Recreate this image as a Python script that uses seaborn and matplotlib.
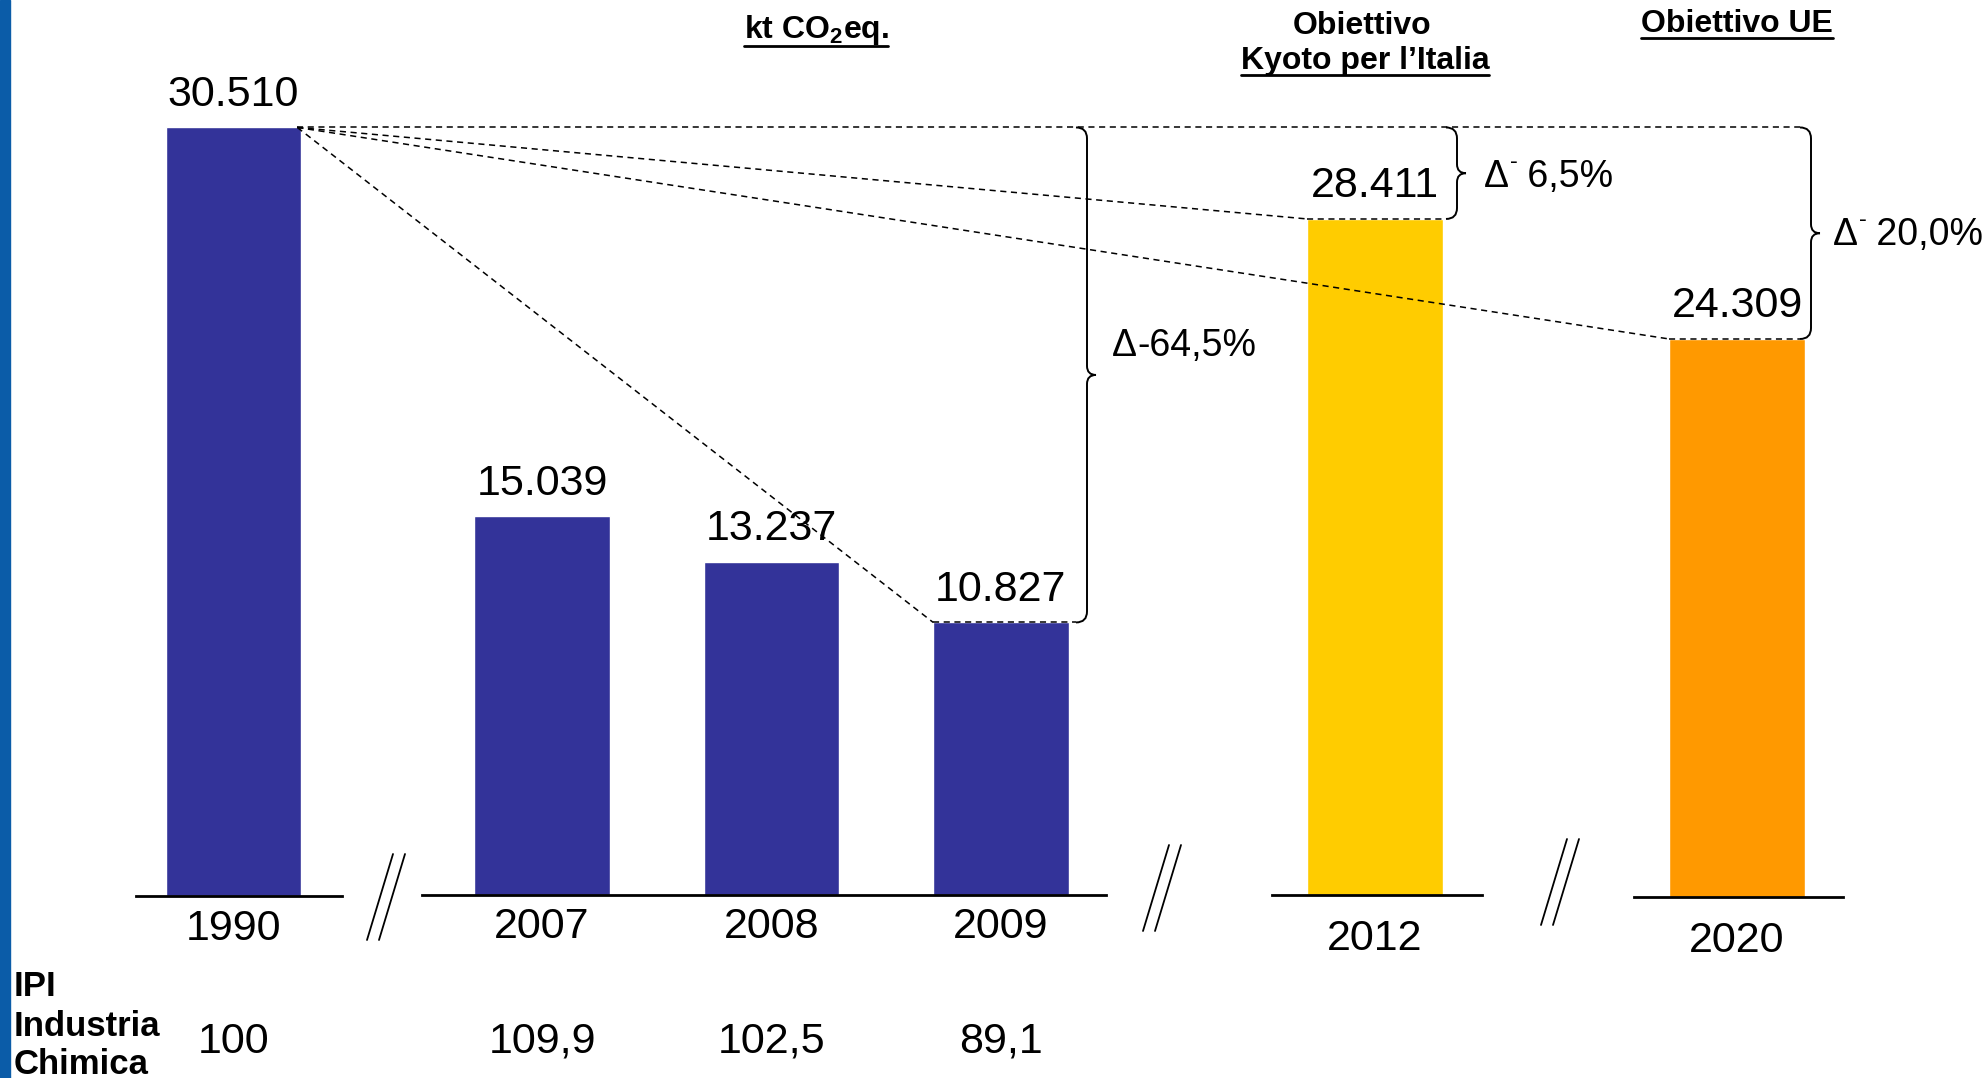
import numpy as np
import pandas as pd
import matplotlib
matplotlib.use("Agg")
import matplotlib.pyplot as plt
import seaborn as sns
from matplotlib.path import Path
from matplotlib.patches import PathPatch, Rectangle

# ---------------- data ----------------
base_years = ["1990"]
base_values = [30510]
recent_years = ["2007", "2008", "2009"]
recent_values = [15039, 13237, 10827]
kyoto_years = ["2012"]
kyoto_values = [28411]
eu_years = ["2020"]
eu_values = [24309]
ipi_years = ["1990", "2007", "2008", "2009"]
ipi_values = [100, 109.9, 102.5, 89.1]
delta_parts = [("\u0394", "", "-64,5%"), ("\u0394", "-", " 6,5%"), ("\u0394", "-", " 20,0%")]
header_texts = ["kt CO$_\\mathbf{2}$eq.", "Obiettivo", "Kyoto per l\u2019Italia", "Obiettivo UE"]
ipi_row_labels = ["IPI", "Industria", "Chimica"]

BLUE, YELLOW, ORANGE = "#333399", "#FFCC00", "#FF9900"

sns.set_style("white")
FONT = ["Liberation Sans", "DejaVu Sans"]
plt.rcParams["font.family"] = FONT
plt.rcParams.update({
    "text.color": "black",
    "xtick.color": "black",
    "axes.labelcolor": "black",
    "mathtext.fontset": "custom",
    "mathtext.rm": "Liberation Sans:bold",
    "mathtext.bf": "Liberation Sans:bold",
})

W, H = 1986, 1078
fig = plt.figure(figsize=(W / 100, H / 100), dpi=100)
fig.patch.set_facecolor("white")


def px_axes(x0, x1, base, top=100):
    return fig.add_axes([x0 / W, 1 - base / H, (x1 - x0) / W, (base - top) / H])


def fmt_thousands(v):
    return f"{v:,}".replace(",", ".")


def fmt_dec(v):
    return f"{v:g}".replace(".", ",")


VAL_FS = 31
groups = [
    (base_years, base_values, BLUE, (136, 342, 896), (-0.424, 0.472), 31600, 9),
    (recent_years, recent_values, BLUE, (422, 1106, 895), (-0.523, 2.458), 31580, 9),
    (kyoto_years, kyoto_values, YELLOW, (1272, 1482, 895), (-0.448, 0.465), 33410, 17),
    (eu_years, eu_values, ORANGE, (1634, 1843, 897), (-0.448, 0.461), 34720, 17),
]
axes = []
for years, vals, col, (x0, x1, base), xl, ymax, pad in groups:
    ax = px_axes(x0, x1, base)
    df = pd.DataFrame({"year": years, "value": vals})
    sns.barplot(data=df, x="year", y="value", color=col, saturation=1,
                width=0.59, ax=ax, zorder=2)
    ax.set_xlim(*xl)
    ax.set_ylim(0, ymax)
    ax.set_facecolor("none")
    for s in ["top", "right", "left"]:
        ax.spines[s].set_visible(False)
    ax.spines["bottom"].set_linewidth(2.0)
    ax.spines["bottom"].set_color("black")
    ax.spines["bottom"].set_zorder(3)
    ax.set_yticks([])
    ax.set_xlabel("")
    ax.set_ylabel("")
    ax.tick_params(axis="x", length=0, pad=pad, labelsize=VAL_FS, labelcolor="black")
    ax.bar_label(ax.containers[0], labels=[fmt_thousands(v) for v in vals],
                 padding=9, fontsize=VAL_FS, color="black")
    axes.append(ax)
ax1, ax2, ax3, ax4 = axes

# overlay in pixel coordinates
ov = fig.add_axes([0, 0, 1, 1], zorder=10)
ov.set_xlim(0, W)
ov.set_ylim(H, 0)
ov.axis("off")
ov.patch.set_alpha(0)


def to_px(ax, x, y):
    return ov.transData.inverted().transform(ax.transData.transform((x, y)))


def bar_corners(ax, i):
    p = ax.patches[i]
    left = p.get_x()
    right = p.get_x() + p.get_width()
    top = p.get_height()
    return to_px(ax, left, top), to_px(ax, right, top), to_px(ax, left + p.get_width() / 2, 0)


# blue stripe on the left
ov.add_patch(Rectangle((0, 0), 10, H, color="#0B5CA8", zorder=1))

DASH = dict(color="black", lw=1.1, ls=(0, (4, 3)), zorder=5)

(_, tr1990, _) = bar_corners(ax1, 0)
(tl09, tr09, _) = bar_corners(ax2, 2)
(tl12, tr12, _) = bar_corners(ax3, 0)
(tl20, tr20, _) = bar_corners(ax4, 0)

br1_x, br2_x, br3_x = 1087, 1457, 1811
r = 11
sx = tr1990[0] - 4

ov.plot([sx, br3_x - r], [tr1990[1], tr1990[1]], **DASH)
ov.plot([sx, tl09[0]], [tr1990[1], tl09[1]], **DASH)
ov.plot([sx, tl12[0]], [tr1990[1], tl12[1]], **DASH)
ov.plot([sx, tl20[0]], [tr1990[1], tl20[1]], **DASH)
ov.plot([tl09[0], br1_x - r], [tl09[1], tl09[1]], **DASH)
ov.plot([tl12[0], br2_x - r], [tl12[1], tl12[1]], **DASH)
ov.plot([tl20[0], br3_x - r], [tl20[1], tl20[1]], **DASH)


def brace(x, y1, y2, r=11, tip=9):
    ym = (y1 + y2) / 2
    verts = [(x - r, y1), (x, y1), (x, y1 + r), (x, ym - tip),
             (x, ym), (x + tip, ym),
             (x + tip, ym), (x, ym), (x, ym + tip), (x, y2 - r),
             (x, y2), (x - r, y2)]
    codes = [Path.MOVETO, Path.CURVE3, Path.CURVE3, Path.LINETO,
             Path.CURVE3, Path.CURVE3,
             Path.MOVETO, Path.CURVE3, Path.CURVE3, Path.LINETO,
             Path.CURVE3, Path.CURVE3]
    ov.add_patch(PathPatch(Path(verts, codes), fill=False, lw=1.4,
                           ec="black", zorder=6))


top_y = tr1990[1]
brace(br1_x, top_y, tl09[1])
brace(br2_x, top_y, tl12[1])
brace(br3_x, top_y, tl20[1])

DFS = 27
for (d, sup, rest), (x, y) in zip(delta_parts, [(1112, 346), (1484, 177), (1833, 235)]):
    t = ov.text(x, y, d, fontsize=DFS, va="center", ha="left")
    off = 0
    if sup:
        ov.annotate(sup, xy=(1, 0.62), xycoords=t, xytext=(1, 0),
                    textcoords="offset points", fontsize=17, va="bottom", ha="left")
        off = 6
    ov.annotate(rest, xy=(1, 0), xycoords=t, xytext=(off, 0),
                textcoords="offset points", fontsize=DFS, va="bottom", ha="left")

# axis break marks
for bx, by in [(367, 940), (1143, 931), (1541, 925)]:
    for off in (0, 12):
        ov.plot([bx + off, bx + off + 26], [by, by - 86], color="black", lw=1.3, zorder=6)

# headers
HFS = 23
hdr = []
hdr.append(ov.text(816, 30, header_texts[0], fontsize=HFS, fontweight="bold",
                   ha="center", va="center"))
ov.text(1362, 26, header_texts[1], fontsize=HFS, fontweight="bold", ha="center", va="center")
hdr.append(ov.text(1365, 61, header_texts[2], fontsize=HFS, fontweight="bold",
                   ha="center", va="center"))
hdr.append(ov.text(1737, 24, header_texts[3], fontsize=HFS, fontweight="bold",
                   ha="center", va="center"))

# IPI row
for lab, y in zip(ipi_row_labels, [986, 1026, 1064]):
    ov.text(14, y, lab, fontsize=25, fontweight="bold", ha="left", va="center")
ipi_axes = [(ax1, 0), (ax2, 0), (ax2, 1), (ax2, 2)]
for (ax, i), v in zip(ipi_axes, ipi_values):
    _, _, bc = bar_corners(ax, i)
    ov.text(bc[0], 1042, fmt_dec(v), fontsize=VAL_FS, ha="center", va="center")

# underlines
fig.canvas.draw()
renderer = fig.canvas.get_renderer()
for t in hdr:
    bb = t.get_window_extent(renderer)
    (xa, ya), (xb, yb) = ov.transData.inverted().transform([(bb.x0, bb.y0), (bb.x1, bb.y0)])
    ov.plot([xa, xb], [ya - 1, yb - 1], color="black", lw=2.0, zorder=6)

fig.savefig("out.png", dpi=100, facecolor="white")
